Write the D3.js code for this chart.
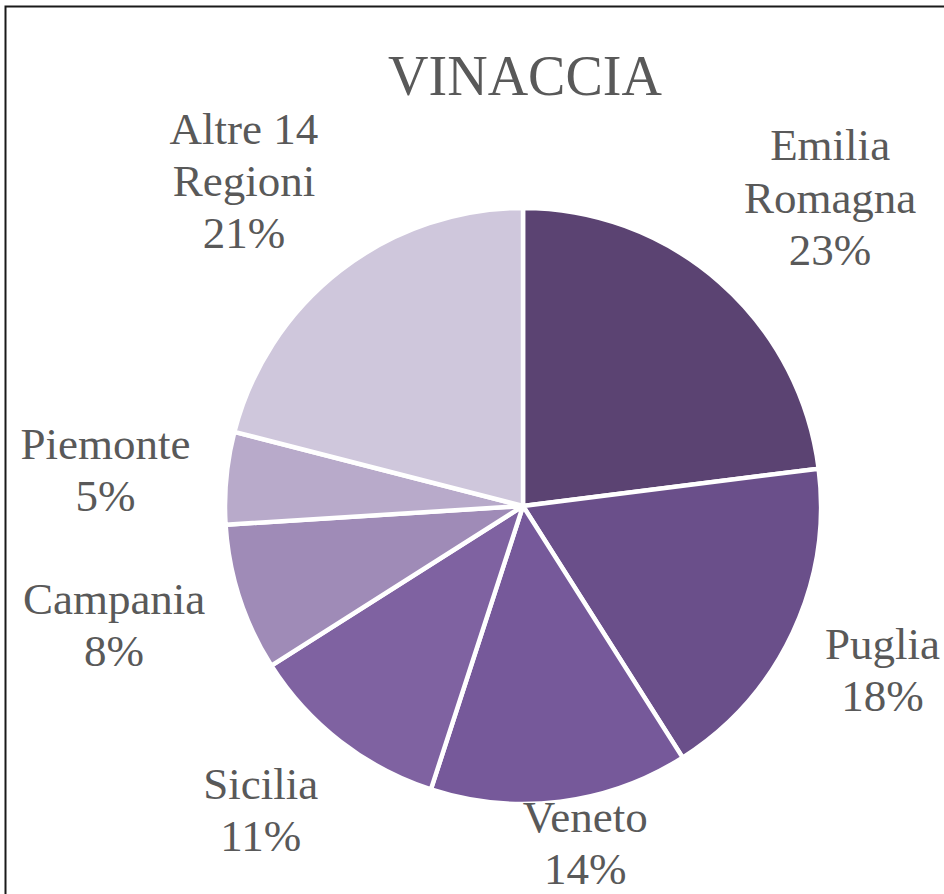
<!DOCTYPE html>
<html>
<head>
<meta charset="utf-8">
<script src="https://cdn.jsdelivr.net/npm/d3@7"></script>
<style>
  html, body { margin: 0; padding: 0; background: #fff; }
  svg { display: block; }
</style>
</head>
<body>
<div id="chart"></div>
<script>
'use strict'

// data
let regions = ["Emilia Romagna", "Puglia", "Veneto", "Sicilia", "Campania", "Piemonte", "Altre 14 Regioni"]
let shares = [23, 18, 14, 11, 8, 5, 21]
let labelLines = [["Emilia", "Romagna"], ["Puglia"], ["Veneto"], ["Sicilia"], ["Campania"], ["Piemonte"], ["Altre 14", "Regioni"]]
let sliceColors = ["#5b4372", "#6a4f8a", "#76599a", "#7f62a1", "#9f8bb7", "#b8aaca", "#cfc7dc"]
let title = "VINACCIA"

// layout
let width = 944
let height = 894
let cx = 523
let cy = 506
let radius = 298
let labelRadius = 334
let textColor = "#595959"
let serif = "'Liberation Serif', 'Times New Roman', serif"

let svg = d3.select("#chart").append("svg")
  .attr("width", width)
  .attr("height", height)

// frame (cropped at right and bottom)
svg.append("rect")
  .attr("x", 5.5)
  .attr("y", 6.5)
  .attr("width", width + 20)
  .attr("height", height + 20)
  .attr("fill", "none")
  .attr("stroke", "#1a1a1a")
  .attr("stroke-width", 2)

svg.append("text")
  .attr("x", 525)
  .attr("y", 95)
  .attr("text-anchor", "middle")
  .style("font-family", serif)
  .style("font-size", "56px")
  .style("fill", textColor)
  .text(title)

let pie = d3.pie().sort(null).value(d => d)
let arcs = pie(shares)
let arc = d3.arc().innerRadius(0).outerRadius(radius)

let g = svg.append("g").attr("transform", "translate(" + cx + "," + cy + ")")

g.selectAll("path")
  .data(arcs)
  .enter()
  .append("path")
  .attr("d", arc)
  .attr("fill", (d, i) => sliceColors[i])
  .attr("stroke", "#fff")
  .attr("stroke-width", 4.5)
  .attr("stroke-linejoin", "round")

// labels: outside end, anchored away from the pie, kept inside the frame
let labels = g.selectAll(".lbl")
  .data(arcs)
  .enter()
  .append("g")
  .attr("class", "lbl")

labels.append("text")
  .attr("text-anchor", "middle")
  .style("font-family", serif)
  .style("font-size", "45px")
  .style("fill", textColor)
  .each(function (d, i) {
    let t = d3.select(this)
    let lines = labelLines[i].concat([shares[i] + "%"])
    lines.forEach((s, k) => {
      t.append("tspan")
        .attr("x", 0)
        .attr("dy", k === 0 ? 0 : "1.16em")
        .text(s)
    })
  })

labels.each(function (d) {
  let grp = d3.select(this)
  let box = this.getBBox()
  let w = box.width / 2
  let h = box.height / 2
  let mid = (d.startAngle + d.endAngle) / 2
  let dx = Math.sin(mid)
  let dy = -Math.cos(mid)
  let bx = dx * labelRadius + Math.sign(dx) * w * Math.min(1, 2.6 * Math.abs(dx))
  let by = dy * (labelRadius + h)
  // keep the box inside the visible frame
  let minX = 8 - cx + w, maxX = width - 4 - cx - w
  let minY = 8 - cy + h, maxY = height - cy - h
  bx = Math.max(minX, Math.min(maxX, bx))
  by = Math.max(minY, Math.min(maxY, by))
  let ox = bx - (box.x + w)
  let oy = by - (box.y + h)
  grp.attr("transform", "translate(" + ox + "," + oy + ")")
})
</script>
</body>
</html>
